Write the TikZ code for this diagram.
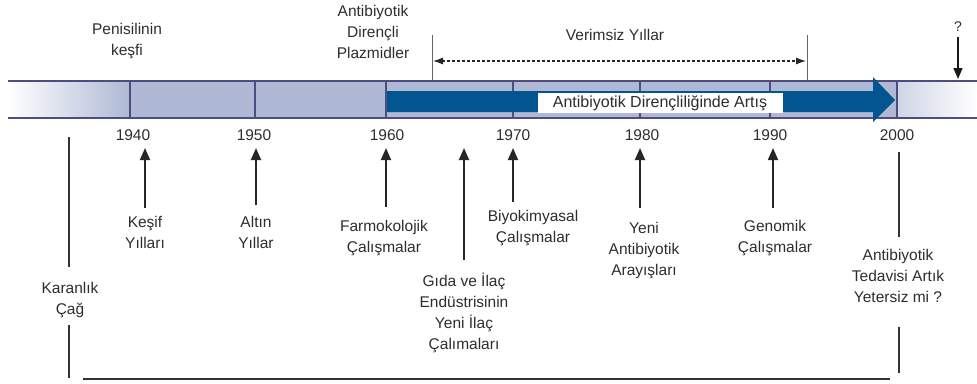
\documentclass[tikz,border=0pt]{standalone}
\usepackage{fontspec}
\setmainfont{Liberation Sans}
\usetikzlibrary{arrows.meta}
\definecolor{band}{RGB}{175,185,213}
\definecolor{bandline}{RGB}{77,77,128}
\definecolor{bigarrow}{RGB}{2,85,143}
\definecolor{txt}{RGB}{45,45,45}
\begin{document}
\begin{tikzpicture}[x=1pt,y=-1pt,
  lbl/.style={font=\fontsize{15.5}{21}\selectfont, text=txt, align=center, inner sep=0pt},
  yr/.style={font=\fontsize{15.5}{18}\selectfont, text=txt, inner sep=0pt},
  uparrow/.style={draw=black!85, line width=1.8pt, -{Triangle[width=10pt,length=12pt]}},
  vline/.style={draw=black!80, line width=1.6pt},
  thinline/.style={draw=black!60, line width=0.8pt},
  bandsep/.style={draw=bandline, line width=1.4pt}]
\useasboundingbox (0,0) rectangle (977,383);
% band
\shade[left color=white, right color=band] (8,81) rectangle (130,118);
\fill[band] (130,81) rectangle (897,118);
\shade[left color=band!60, right color=white] (897,81) rectangle (977,118);
\foreach \x in {130,255,386,513,640,770,897} \draw[bandsep] (\x,81) -- (\x,118);
\draw[bandsep] (8,81) -- (977,81);
\draw[bandsep] (8,118) -- (977,118);
% big arrow
\fill[bigarrow] (387,91) -- (873,91) -- (873,77) -- (895,100) -- (873,122) -- (873,112) -- (387,112) -- cycle;
\node[fill=white, minimum width=245pt, minimum height=20pt, inner sep=0pt,
      font=\fontsize{16}{18}\selectfont, text=txt] (artis) at (660,103) {Antibiyotik Dirençliliğinde Artış};
% top labels
\node[lbl] (pen) at (127,41) {Penisilinin\\keşfi};
\node[lbl] (plaz) at (373,32) {Antibiyotik\\Dirençli\\Plazmidler};
\node[lbl] (verim) at (615,35) {Verimsiz Yıllar};
\node[lbl, font=\fontsize{14}{15}\selectfont] (q) at (958,27) {?};
% verimsiz yillar bracket
\coordinate (vtl) at (432,35); \coordinate (vbl) at (432,80);
\coordinate (vtr) at (807,35); \coordinate (vbr) at (807,80);
\draw[thinline] (vtl) -- (vbl);
\draw[thinline] (vtr) -- (vbr);
\coordinate (dl) at (433,61); \coordinate (dr) at (806,61);
\draw[black!85, line width=1.1pt, dash pattern=on 3pt off 2pt,
      {Latex[length=10pt,width=7pt]}-{Latex[length=10pt,width=7pt]}] (dl) -- (dr);
\coordinate (qe) at (958,79);
\draw[black!90, line width=1.4pt, -{Triangle[width=9pt,length=11pt]}] (q.south) ++(0,5) -- (qe);
% years
\node[yr] (y40) at (133,135) {1940};
\node[yr] (y50) at (254,135) {1950};
\node[yr] (y60) at (387,135) {1960};
\node[yr] (y70) at (513,135) {1970};
\node[yr] (y80) at (642,135) {1980};
\node[yr] (y90) at (770,135) {1990};
\node[yr] (y00) at (897,135) {2000};
% lower labels
\node[lbl] (kesif) at (145,232) {Keşif\\Yılları};
\node[lbl] (altin) at (256,232) {Altın\\Yıllar};
\node[lbl] (farm) at (384,238) {Farmokolojik\\Çalışmalar};
\node[lbl] (gida) at (464,313) {Gıda ve İlaç\\Endüstrisinin\\Yeni İlaç\\Çalımaları};
\node[lbl] (biyo) at (533,228) {Biyokimyasal\\Çalışmalar};
\node[lbl] (yeni) at (644,251) {Yeni\\Antibiyotik\\Arayışları};
\node[lbl] (geno) at (775,238) {Genomik\\Çalışmalar};
\node[lbl] (yeter) at (898,276) {Antibiyotik\\Tedavisi Artık\\Yetersiz mi ?};
\node[lbl] (kara) at (70,300) {Karanlık\\Çağ};
% up arrows
\coordinate (a1b) at (145,208); \coordinate (a1t) at (145,148);
\coordinate (a2b) at (256,205); \coordinate (a2t) at (256,148);
\coordinate (a3b) at (386,207); \coordinate (a3t) at (386,148);
\coordinate (a4b) at (464,260); \coordinate (a4t) at (464,148);
\coordinate (a5b) at (513,202); \coordinate (a5t) at (513,148);
\coordinate (a6b) at (640,208); \coordinate (a6t) at (640,148);
\coordinate (a7b) at (773,208); \coordinate (a7t) at (773,148);
\foreach \i in {1,...,7} \draw[uparrow] (a\i b) -- (a\i t);
% dark age and 2000 lines
\coordinate (k1) at (69,137); \coordinate (k2) at (69,267);
\coordinate (k3) at (69,325); \coordinate (k4) at (69,378);
\draw[vline] (k1) -- (k2);
\draw[vline] (k3) -- (k4);
\coordinate (t1) at (899,152); \coordinate (t2) at (899,237);
\coordinate (t3) at (899,327); \coordinate (t4) at (899,373);
\draw[vline] (t1) -- (t2);
\draw[vline] (t3) -- (t4);
\coordinate (b1) at (83,379); \coordinate (b2) at (890,379);
\draw[vline] (b1) -- (b2);
\end{tikzpicture}
\end{document}
